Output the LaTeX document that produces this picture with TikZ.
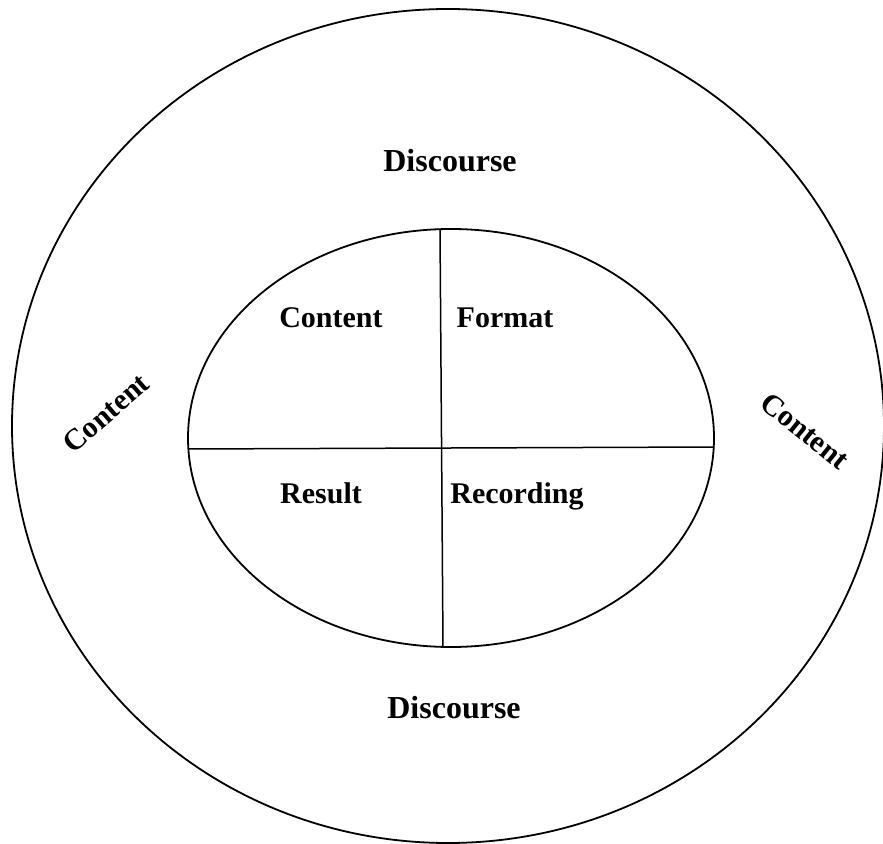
\documentclass[tikz,border=0pt]{standalone}
\usepackage{fontspec}
\setmainfont{Liberation Serif}
\begin{document}
\begin{tikzpicture}[x=0.5pt,y=-0.5pt,
  ring/.style={line width=0.9pt},
  divider/.style={line width=0.75pt},
  outerlbl/.style={font=\bfseries\fontsize{16}{18}\selectfont, inner sep=0pt},
  sidelbl/.style={font=\bfseries\fontsize{15}{17}\selectfont, inner sep=0pt},
  innerlbl/.style={font=\bfseries\fontsize{15}{17}\selectfont, inner sep=0pt, anchor=base}]
\useasboundingbox (0,0) rectangle (883,844);
% outer ring and inner ellipse
\draw[ring] (448,426) ellipse [x radius=436, y radius=417];
\draw[ring] (451,438) ellipse [x radius=263, y radius=209];
% dividers
\coordinate (vt) at (440,229);
\coordinate (vb) at (443,647);
\coordinate (hl) at (188,449);
\coordinate (hr) at (714,447);
\draw[divider] (vt) -- (vb);
\draw[divider] (hl) -- (hr);
% labels
\node[outerlbl, anchor=base] (dtop) at (450,172) {Discourse};
\node[outerlbl, anchor=base] (dbot) at (454,718) {Discourse};
\node[sidelbl, rotate=41] (cleft) at (106,413) {Content};
\node[sidelbl, rotate=-39] (cright) at (805,431) {Content};
\node[innerlbl] (content) at (331,328) {Content};
\node[innerlbl] (format) at (505,328) {Format};
\node[innerlbl] (result) at (321,503) {Result};
\node[innerlbl] (recording) at (517,503) {Recording};
\end{tikzpicture}
\end{document}
